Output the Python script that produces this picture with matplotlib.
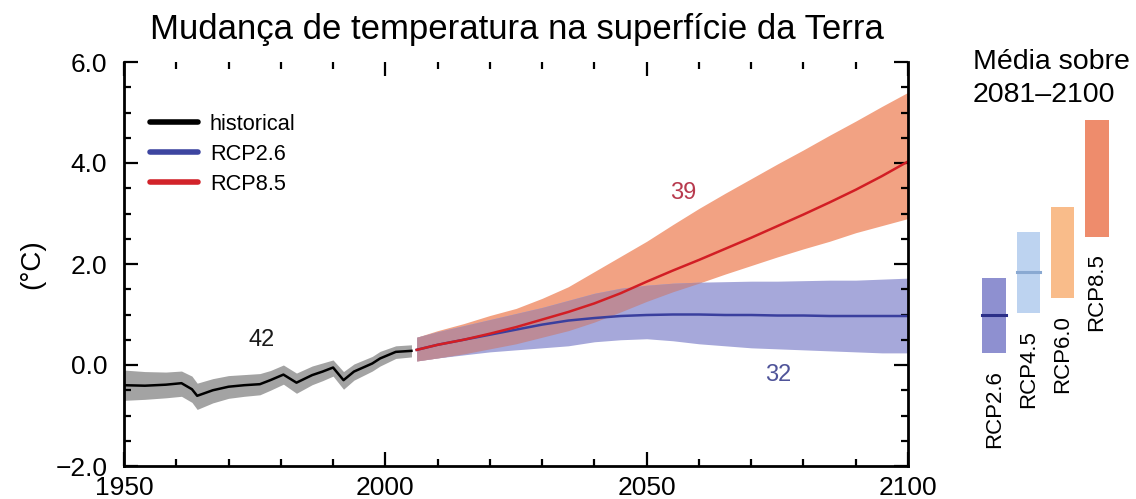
import matplotlib
matplotlib.use("Agg")
import matplotlib.pyplot as plt
import numpy as np
from matplotlib.lines import Line2D
from matplotlib.ticker import MultipleLocator

plt.rcParams['font.family'] = ['Liberation Sans', 'DejaVu Sans']

# ---------------- data ----------------
hist_years = [1950, 1954, 1958, 1961, 1963, 1964, 1967, 1970, 1973, 1976, 1978,
              1980.5, 1983, 1986, 1988, 1990, 1992, 1994, 1997.5, 1999, 2002, 2005]
hist_mean = [-0.40, -0.41, -0.39, -0.36, -0.48, -0.61, -0.50, -0.43, -0.40, -0.38, -0.30,
             -0.19, -0.35, -0.20, -0.13, -0.05, -0.30, -0.13, 0.03, 0.13, 0.26, 0.28]
hist_upper = [-0.10, -0.13, -0.14, -0.12, -0.22, -0.36, -0.27, -0.21, -0.19, -0.17, -0.11,
              0.00, -0.16, -0.02, 0.04, 0.10, -0.13, 0.02, 0.17, 0.27, 0.38, 0.40]
hist_lower = [-0.70, -0.68, -0.65, -0.62, -0.74, -0.88, -0.75, -0.66, -0.62, -0.59, -0.50,
              -0.38, -0.56, -0.39, -0.31, -0.22, -0.48, -0.30, -0.12, -0.02, 0.13, 0.16]

fut_years = [2006, 2010, 2015, 2020, 2025, 2030, 2035, 2040, 2045, 2050,
             2055, 2060, 2065, 2070, 2075, 2080, 2085, 2090, 2095, 2100]

rcp85_mean = [0.30, 0.40, 0.50, 0.62, 0.75, 0.90, 1.05, 1.22, 1.42, 1.65,
              1.87, 2.08, 2.30, 2.52, 2.75, 2.98, 3.22, 3.47, 3.74, 4.03]
rcp85_upper = [0.55, 0.68, 0.82, 0.98, 1.12, 1.32, 1.55, 1.85, 2.15, 2.45,
               2.78, 3.10, 3.40, 3.69, 3.98, 4.26, 4.55, 4.83, 5.12, 5.40]
rcp85_lower = [0.08, 0.14, 0.22, 0.32, 0.42, 0.55, 0.68, 0.85, 1.05, 1.26,
               1.45, 1.62, 1.80, 1.97, 2.14, 2.30, 2.45, 2.62, 2.76, 2.90]

rcp26_mean = [0.30, 0.40, 0.50, 0.60, 0.70, 0.80, 0.88, 0.93, 0.97, 0.99,
              1.00, 1.00, 0.99, 0.99, 0.98, 0.98, 0.97, 0.97, 0.97, 0.97]
rcp26_upper = [0.55, 0.66, 0.78, 0.90, 1.02, 1.14, 1.28, 1.42, 1.52, 1.58,
               1.62, 1.64, 1.65, 1.66, 1.66, 1.67, 1.68, 1.68, 1.70, 1.72]
rcp26_lower = [0.08, 0.14, 0.20, 0.26, 0.30, 0.34, 0.38, 0.46, 0.50, 0.52,
               0.48, 0.42, 0.38, 0.34, 0.32, 0.30, 0.28, 0.26, 0.24, 0.24]

bar_labels = ['RCP2.6', 'RCP4.5', 'RCP6.0', 'RCP8.5']
bar_low = [0.23, 1.02, 1.32, 2.54]
bar_high = [1.73, 2.64, 3.13, 4.85]
bar_mean = [0.99, 1.85]
bar_colors = ['#8e90d0', '#bdd3f0', '#f9bc8a', '#ee8c6c']
bar_mean_colors = ['#2b2f88', '#8aa9d2']

model_counts = ['42', '39', '32']

# ---------------- figure ----------------
fig = plt.figure(figsize=(11.36, 4.99), dpi=100)
L, R, B, T = 124/1136, 908/1136, 1-466/499, 1-62/499
ax = fig.add_axes([L, B, R-L, T-B])

ax.fill_between(hist_years, hist_lower, hist_upper, color='#a3a3a3', lw=0)
ax.fill_between(fut_years, rcp85_lower, rcp85_upper, color='#f2a283', lw=0)
ax.fill_between(fut_years, rcp26_lower, rcp26_upper, color='#a6a8da', lw=0)
# overlap of the two ranges
ov_low = np.maximum(rcp85_lower, rcp26_lower)
ov_high = np.minimum(rcp85_upper, rcp26_upper)
ax.fill_between(fut_years, ov_low, ov_high, where=ov_high > ov_low,
                interpolate=True, color='#bc8b98', lw=0)
ax.plot(hist_years, hist_mean, color='black', lw=1.8)
ax.plot(fut_years, rcp26_mean, color='#3a3f9e', lw=1.8)
ax.plot(fut_years, rcp85_mean, color='#d21e24', lw=1.8)

ax.text(1976.4, 0.5, model_counts[0], fontsize=17, color='#1a1a1a', ha='center', va='center')
ax.text(2057.0, 3.4, model_counts[1], fontsize=17, color='#b83a4e', ha='center', va='center')
ax.text(2075.1, -0.2, model_counts[2], fontsize=17, color='#4f5499', ha='center', va='center')

ax.set_xlim(1950, 2100)
ax.set_ylim(-2, 6)
ax.xaxis.set_minor_locator(MultipleLocator(10))
ax.yaxis.set_minor_locator(MultipleLocator(0.5))
ax.set_yticks([-2, 0, 2, 4, 6])
ax.set_yticklabels(['\u22122.0', '0.0', '2.0', '4.0', '6.0'])
ax.set_xticks([1950, 2000, 2050, 2100])
ax.set_xticklabels(['1950', '2000', '2050', '2100'])

ax.spines['top'].set_visible(False)
for s in ['left', 'right', 'bottom']:
    ax.spines[s].set_linewidth(2)
ax.tick_params(which='both', direction='in', top=True, right=True, width=1.6, color='black')
ax.tick_params(which='major', length=10, labelsize=19, pad=12)
ax.tick_params(which='minor', length=5)
ax.tick_params(axis='x', which='major', pad=7)

ax.set_ylabel('(°C)', fontsize=20)
ax.yaxis.set_label_coords(-0.10, 0.5)

handles = [Line2D([], [], color='black', lw=4, solid_capstyle='round'),
           Line2D([], [], color='#3d45a0', lw=4, solid_capstyle='round'),
           Line2D([], [], color='#d2232a', lw=4, solid_capstyle='round')]
ax.legend(handles, ['historical', 'RCP2.6', 'RCP8.5'], loc='upper left',
          bbox_to_anchor=(0.033, 0.872), frameon=False, fontsize=15.7,
          handlelength=2.2, handletextpad=0.55, labelspacing=0.42,
          borderpad=0, borderaxespad=0)

fig.text(517/1136, 1-30/499, 'Mudança de temperatura na superfície da Terra',
         fontsize=25, ha='center', va='center')

# ---------------- right panel ----------------
ax2 = fig.add_axes([977/1136, B, 137/1136, T-B])
ax2.set_xlim(-0.5, 3.5)
ax2.set_ylim(-2, 6)
ax2.axis('off')
for i, lab in enumerate(bar_labels):
    ax2.bar(i, bar_high[i]-bar_low[i], bottom=bar_low[i], width=0.68,
            color=bar_colors[i], lw=0)
    ax2.text(i, bar_low[i]-0.33, lab, rotation=90, ha='center', va='top', fontsize=16)
for i, m in enumerate(bar_mean):
    ax2.plot([i-0.34, i+0.34], [m, m], color=bar_mean_colors[i], lw=2.2)

fig.text(973/1136, 1-62/499, 'Média sobre', fontsize=20.5, ha='left', va='center')
fig.text(973/1136, 1-95/499, '2081–2100', fontsize=20.5, ha='left', va='center')

fig.savefig('out.png', dpi=100)
